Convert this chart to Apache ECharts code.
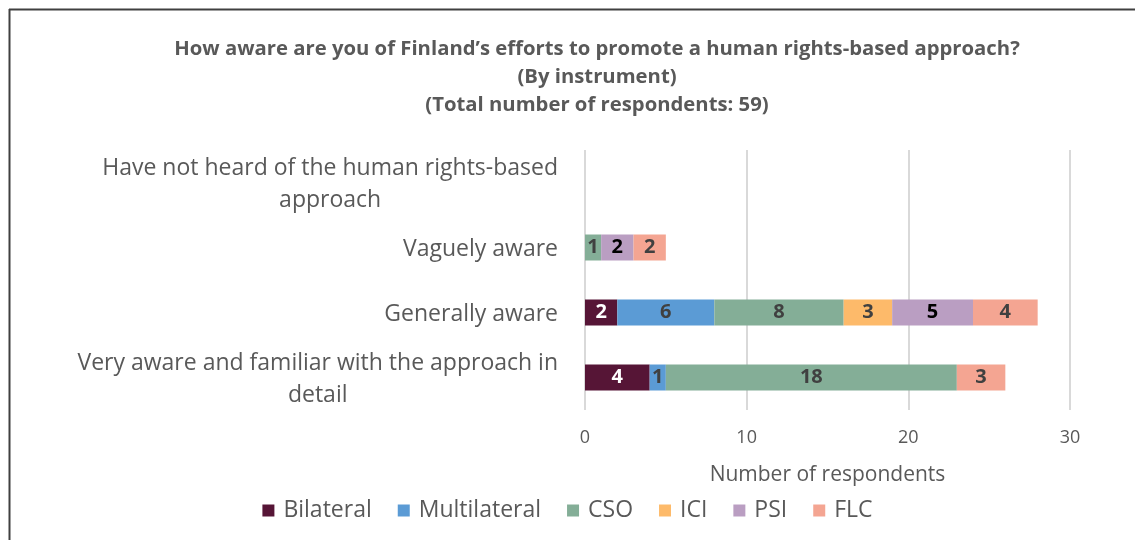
<!DOCTYPE html>
<html>
<head>
<meta charset="utf-8">
<script src="https://cdn.jsdelivr.net/npm/echarts@6/dist/echarts.min.js"></script>
<style>html,body{margin:0;padding:0;background:#fff}#c{width:1135px;height:540px}</style>
</head>
<body>
<div id="c"></div>
<script>
const categories = [
  'Have not heard of the human rights-based approach',
  'Vaguely aware',
  'Generally aware',
  'Very aware and familiar with the approach in detail'
];
const categoryLines = {
  'Have not heard of the human rights-based approach': ['Have not heard of the human rights-based', 'approach'],
  'Vaguely aware': ['Vaguely aware'],
  'Generally aware': ['Generally aware'],
  'Very aware and familiar with the approach in detail': ['Very aware and familiar with the approach in', 'detail']
};
const seriesNames = ['Bilateral', 'Multilateral', 'CSO', 'ICI', 'PSI', 'FLC'];
const bilateral    = [0, 0, 2, 4];
const multilateral = [0, 0, 6, 1];
const cso          = [0, 1, 8, 18];
const ici          = [0, 0, 3, 0];
const psi          = [0, 2, 5, 0];
const flc          = [0, 2, 4, 3];
const xTicks = [0, 10, 20, 30];

const values = [bilateral, multilateral, cso, ici, psi, flc];
const colors = ['#561536', '#5B9BD5', '#84AE97', '#FDBA6A', '#BA9EC2', '#F4A592'];
const labelColors = ['#FFFFFF', '#404040', '#404040', '#404040', '#000000', '#404040'];
const FONT = '"Open Sans", sans-serif';

const chart = echarts.init(document.getElementById('c'));
chart.setOption({
  animation: false,
  title: {
    text: 'How aware are you of Finland\u2019s efforts to promote a human rights-based approach?\n(By instrument)\n(Total number of respondents: 59)',
    left: 592, top: 30, textAlign: 'center',
    textStyle: { fontFamily: FONT, fontSize: 20.3, fontWeight: 'bold', color: '#595959', lineHeight: 28 }
  },
  legend: {
    data: seriesNames, bottom: 13, left: 'center',
    itemWidth: 12, itemHeight: 12, itemGap: 26, icon: 'rect',
    textStyle: { fontFamily: FONT, fontSize: 23, color: '#595959', padding: [0, 0, 0, 4] }
  },
  grid: { left: 585, right: 65, top: 150, bottom: 130 },
  xAxis: {
    type: 'value', min: 0, max: 30, interval: 10,
    name: 'Number of respondents', nameLocation: 'middle', nameGap: 55,
    nameTextStyle: { fontFamily: FONT, fontSize: 21, color: '#595959' },
    axisLine: { show: false }, axisTick: { show: false },
    axisLabel: { fontFamily: FONT, fontSize: 18, color: '#595959', margin: 19,
      formatter: v => xTicks.includes(v) ? String(v) : '' },
    splitLine: { lineStyle: { color: '#D9D9D9', width: 2 } }
  },
  yAxis: {
    type: 'category', data: categories, inverse: true,
    axisLine: { show: false }, axisTick: { show: false },
    axisLabel: {
      margin: 27, fontFamily: FONT, fontSize: 23, color: '#595959',
      formatter: v => categoryLines[v].map(l => '{c|' + l + '}').join('\n'),
      rich: { c: { align: 'center', fontFamily: FONT, fontSize: 23, color: '#595959', lineHeight: 32, padding: [3, 0, 0, 0] } }
    }
  },
  series: seriesNames.map((n, i) => ({
    name: n, type: 'bar', stack: 'all', data: values[i], barWidth: 26,
    itemStyle: { color: colors[i] },
    label: {
      show: true, position: 'inside', fontFamily: FONT, fontSize: 20, fontWeight: 'bold',
      color: labelColors[i], formatter: p => p.value ? String(p.value) : ''
    }
  })),
  graphic: [
    { type: 'line', shape: { x1: 9, y1: 9.5, x2: 1135, y2: 9.5 }, style: { stroke: '#404040', lineWidth: 2 } },
    { type: 'line', shape: { x1: 9.5, y1: 9, x2: 9.5, y2: 540 }, style: { stroke: '#404040', lineWidth: 2 } }
  ]
});
</script>
</body>
</html>
